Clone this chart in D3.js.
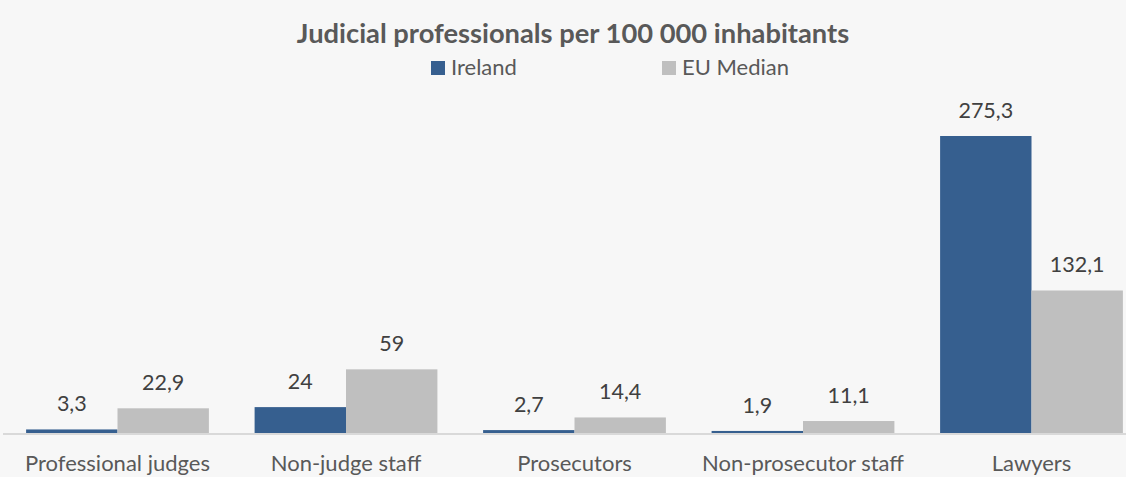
<!DOCTYPE html>
<html>
<head>
<meta charset="utf-8">
<script src="https://cdn.jsdelivr.net/npm/d3@7"></script>
<style>
  body { margin: 0; background: #f7f7f7; }
  text { font-family: Lato, "Open Sans", sans-serif; }
</style>
</head>
<body>
<div id="chart"></div>
<script>
var categories = ["Professional judges", "Non-judge staff", "Prosecutors", "Non-prosecutor staff", "Lawyers"];
var seriesNames = ["Ireland", "EU Median"];
var ireland = [3.3, 24, 2.7, 1.9, 275.3];
var euMedian = [22.9, 59, 14.4, 11.1, 132.1];
var colors = ["#365f8f", "#bfbfbf"];

var width = 1126,
    height = 477,
    baseline = 433;

var svg = d3.select("#chart").append("svg")
    .attr("width", width)
    .attr("height", height)
    .style("display", "block");

svg.append("rect")
    .attr("width", width)
    .attr("height", height)
    .attr("fill", "#f7f7f7");

var x0 = d3.scaleBand()
    .domain(categories)
    .range([3.25, 1145.75])
    .paddingInner(0.2)
    .paddingOuter(0.1);

var x1 = d3.scaleBand()
    .domain(seriesNames)
    .range([0, x0.bandwidth()]);

var y = d3.scaleLinear()
    .domain([0, 275.3])
    .range([baseline, 136]);

var rows = categories.map(function(c, i) {
    return { cat: c, vals: [ireland[i], euMedian[i]] };
});

function fmt(v) { return String(v).replace(".", ","); }

// axis line
svg.append("line")
    .attr("x1", 3).attr("x2", width)
    .attr("y1", baseline + 1).attr("y2", baseline + 1)
    .attr("stroke", "#d9d9d9")
    .attr("stroke-width", 2);

var groups = svg.selectAll(".grp")
    .data(rows)
  .enter().append("g")
    .attr("class", "grp")
    .attr("transform", function(d) { return "translate(" + x0(d.cat) + ",0)"; });

groups.selectAll("rect")
    .data(function(d) { return d.vals.map(function(v, j) { return { s: seriesNames[j], v: v, j: j }; }); })
  .enter().append("rect")
    .attr("x", function(d) { return x1(d.s); })
    .attr("width", x1.bandwidth())
    .attr("y", function(d) { return y(d.v); })
    .attr("height", function(d) { return baseline - y(d.v); })
    .attr("fill", function(d) { return colors[d.j]; });

groups.selectAll(".val")
    .data(function(d) { return d.vals.map(function(v, j) { return { s: seriesNames[j], v: v }; }); })
  .enter().append("text")
    .attr("class", "val")
    .attr("x", function(d) { return x1(d.s) + x1.bandwidth() / 2; })
    .attr("y", function(d) { return y(d.v) - 18; })
    .attr("text-anchor", "middle")
    .attr("fill", "#404040")
    .style("font-size", "21.5px")
    .text(function(d) { return fmt(d.v); });

// category labels
svg.selectAll(".cat")
    .data(categories)
  .enter().append("text")
    .attr("class", "cat")
    .attr("x", function(d) { return x0(d) + x0.bandwidth() / 2; })
    .attr("y", 471)
    .attr("text-anchor", "middle")
    .attr("fill", "#595959")
    .style("font-size", "22px")
    .text(function(d) { return d; });

// title
svg.append("text")
    .attr("x", 573)
    .attr("y", 43)
    .attr("text-anchor", "middle")
    .attr("fill", "#595959")
    .style("font-size", "27.3px")
    .style("font-weight", "bold")
    .text("Judicial professionals per 100 000 inhabitants");

// legend
var legendX = [431, 662];
var legend = svg.selectAll(".leg")
    .data(seriesNames)
  .enter().append("g")
    .attr("class", "leg")
    .attr("transform", function(d, i) { return "translate(" + legendX[i] + ",61)"; });

legend.append("rect")
    .attr("width", 14).attr("height", 14)
    .attr("fill", function(d, i) { return colors[i]; });

legend.append("text")
    .attr("x", 20)
    .attr("y", 14)
    .attr("fill", "#595959")
    .style("font-size", "22px")
    .text(function(d) { return d; });
</script>
</body>
</html>
